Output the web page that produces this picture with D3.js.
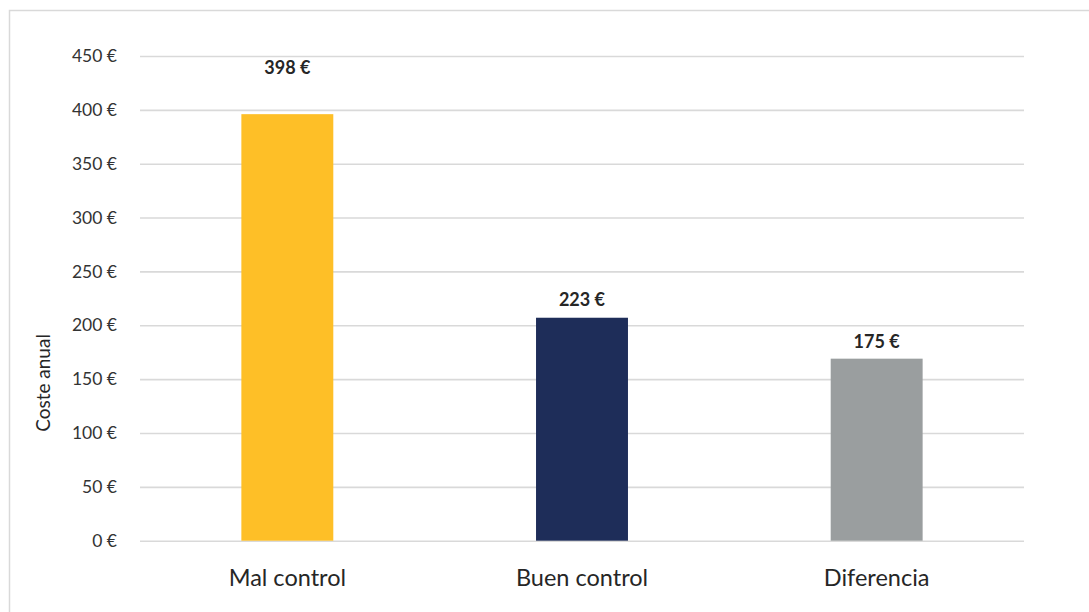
<!DOCTYPE html>
<html><head><meta charset="utf-8">
<script src="https://cdn.jsdelivr.net/npm/d3@7/dist/d3.min.js"></script>
<style>
html,body{margin:0;padding:0;background:#fff;}
svg{display:block;font-family:Lato,"Open Sans",sans-serif;}
</style></head>
<body><svg id="chart" width="1089" height="612"></svg>
<script>
const categories = ["Mal control", "Buen control", "Diferencia"];
const barValues = [396, 207, 169];
const valueLabels = ["398 €", "223 €", "175 €"];
const labelAnchors = [433, 218, 179];
const barColors = ["#FEBF27", "#1E2D59", "#9A9E9F"];
const yTicks = [0, 50, 100, 150, 200, 250, 300, 350, 400, 450];
const yTitle = "Coste anual";

const svg = d3.select("#chart");
const W = 1089, H = 612;

// outer frame
svg.append("rect").attr("x", 9.5).attr("y", 10.5).attr("width", W).attr("height", H)
  .attr("fill", "#fff").attr("stroke", "#d9d9d9").attr("stroke-width", 1.5);

const x = d3.scaleBand().domain(categories).range([140, 1024]).padding(0);
const y = d3.scaleLinear().domain([0, 450]).range([540.7, 56]);
const barW = x.bandwidth() * 0.312;

// gridlines
const yAxis = d3.axisLeft(y).tickValues(yTicks).tickSize(-(1024 - 140)).tickFormat(d => d + " €");
const gy = svg.append("g").attr("transform", "translate(140,0)").call(yAxis);
gy.select(".domain").remove();
gy.selectAll(".tick line").attr("stroke", "#d9d9d9").attr("stroke-width", 1.6);
gy.selectAll(".tick text").attr("x", -23).attr("fill", "#333")
  .attr("font-size", 17.5).attr("font-family", "Lato, sans-serif");

// bars
svg.append("g").selectAll("rect").data(categories).join("rect")
  .attr("x", d => x(d) + x.bandwidth() / 2 - barW / 2)
  .attr("width", barW)
  .attr("y", (d, i) => y(barValues[i]))
  .attr("height", (d, i) => y(0) - y(barValues[i]))
  .attr("fill", (d, i) => barColors[i]);

// value labels
svg.append("g").selectAll("text").data(categories).join("text")
  .attr("x", d => x(d) + x.bandwidth() / 2)
  .attr("y", (d, i) => y(labelAnchors[i]))
  .attr("text-anchor", "middle")
  .attr("font-size", 18).attr("font-weight", "bold").attr("fill", "#262626")
  .text((d, i) => valueLabels[i]);

// x axis labels
const xAxis = d3.axisBottom(x).tickSize(0).tickPadding(0);
const gx = svg.append("g").attr("transform", "translate(0," + y(0) + ")").call(xAxis);
gx.select(".domain").remove();
gx.selectAll(".tick text").attr("dy", null).attr("y", 45).attr("fill", "#262626")
  .attr("font-size", 23.5).attr("font-family", "Lato, sans-serif");

// y title
svg.append("text")
  .attr("transform", "translate(50," + 383 + ") rotate(-90)")
  .attr("text-anchor", "middle")
  .attr("font-size", 19).attr("fill", "#262626")
  .text(yTitle);
</script>
</body></html>
